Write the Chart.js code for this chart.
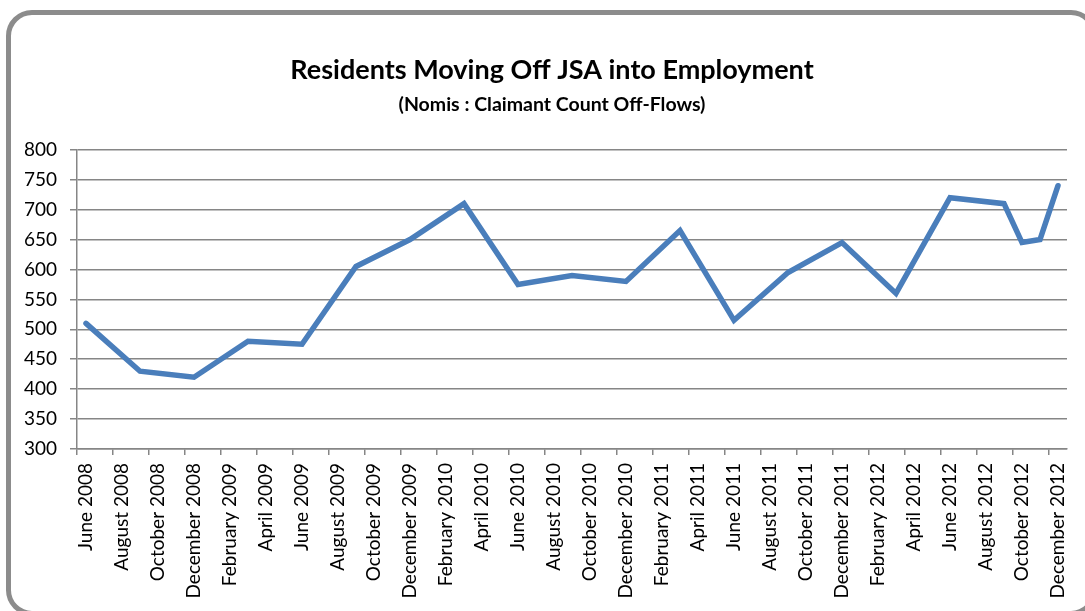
<!DOCTYPE html>
<html>
<head>
<meta charset="utf-8">
<script src="https://cdn.jsdelivr.net/npm/chart.js@4"></script>
<style>
  html, body { margin: 0; padding: 0; background: #fff; overflow: hidden; }
  #frame {
    position: absolute; left: 6px; top: 10px; width: 1081px; height: 596px;
    border: 5px solid #8c8c8c; border-radius: 26px; box-sizing: content-box;
  }
  #wrap { position: absolute; left: 0; top: 0; width: 1085px; height: 611px; }
</style>
</head>
<body>
<div id="frame"></div>
<div id="wrap"><canvas id="chart" width="1085" height="611"></canvas></div>
<script>
// month names for the category axis
const monthNames = ['January', 'February', 'March', 'April', 'May', 'June',
  'July', 'August', 'September', 'October', 'November', 'December'];
const startYear = 2008, startMonth = 5;   // June 2008
const monthCount = 55;                    // to December 2012

// quarterly readings (plus the last three months of 2012)
const pointMonths = [
  'June 2008', 'September 2008', 'December 2008',
  'March 2009', 'June 2009', 'September 2009', 'December 2009',
  'March 2010', 'June 2010', 'September 2010', 'December 2010',
  'March 2011', 'June 2011', 'September 2011', 'December 2011',
  'March 2012', 'June 2012', 'September 2012', 'October 2012', 'November 2012', 'December 2012'
];
const offFlows = [
  510, 430, 420,
  480, 475, 605, 650,
  710, 575, 590, 580,
  665, 515, 595, 645,
  560, 720, 710, 645, 650, 740
];

const yTicks = { min: 300, max: 800, step: 50 };

const FONT = 'Lato, "Open Sans", sans-serif';
const GREY = '#868686';
const LINE = '#4a7ebb';

// build the monthly category list and map readings onto it
const labels = [];
for (let i = 0; i < monthCount; i++) {
  const m = (startMonth + i) % 12;
  const y = startYear + Math.floor((startMonth + i) / 12);
  labels.push(monthNames[m] + ' ' + y);
}
const series = labels.map(l => {
  const k = pointMonths.indexOf(l);
  return k >= 0 ? offFlows[k] : null;
});

new Chart(document.getElementById('chart').getContext('2d'), {
  type: 'line',
  data: {
    labels,
    datasets: [{
      label: 'Off-flows',
      data: series,
      borderColor: LINE,
      borderWidth: 5.5,
      pointRadius: 0,
      spanGaps: true,
      tension: 0,
      borderJoinStyle: 'miter',
      borderCapStyle: 'round'
    }]
  },
  options: {
    responsive: false,
    animation: false,
    // left padding shifts the title centre to match the frame
    layout: { padding: { left: 19, right: 0, top: 0, bottom: 0 } },
    plugins: {
      legend: { display: false },
      tooltip: { enabled: false },
      title: {
        display: true,
        text: 'Residents Moving Off JSA into Employment',
        color: '#000',
        font: { family: FONT, size: 27, weight: 'bold' },
        padding: { top: 54, bottom: 7 }
      },
      subtitle: {
        display: true,
        text: '(Nomis : Claimant Count Off-Flows)',
        color: '#000',
        font: { family: FONT, size: 19.5, weight: 'bold' },
        padding: { top: 0, bottom: 33 }
      }
    },
    scales: {
      x: {
        offset: true,
        afterFit: s => { s.height = 162; s.paddingLeft = 0; s.paddingRight = 18; },
        border: { display: true, color: GREY, width: 1.5 },
        grid: {
          offset: true,
          drawOnChartArea: false,
          drawTicks: true,
          tickLength: 6,
          lineWidth: 1.5,
          color: c => (c.index % 2 === 0 ? GREY : 'rgba(0,0,0,0)')
        },
        ticks: {
          autoSkip: false,
          maxRotation: 90,
          minRotation: 90,
          padding: 8,
          color: '#000',
          font: { family: FONT, size: 19 },
          callback: function (val, i) { return i % 2 === 0 ? this.getLabelForValue(val) : ''; }
        }
      },
      y: {
        min: yTicks.min,
        max: yTicks.max,
        afterFit: s => { s.width = 58; },
        border: { display: true, color: GREY, width: 1.5 },
        grid: { color: GREY, lineWidth: 1.5, tickLength: 7 },
        ticks: {
          stepSize: yTicks.step,
          padding: 13,
          color: '#000',
          font: { family: FONT, size: 19 }
        }
      }
    }
  }
});
</script>
</body>
</html>
